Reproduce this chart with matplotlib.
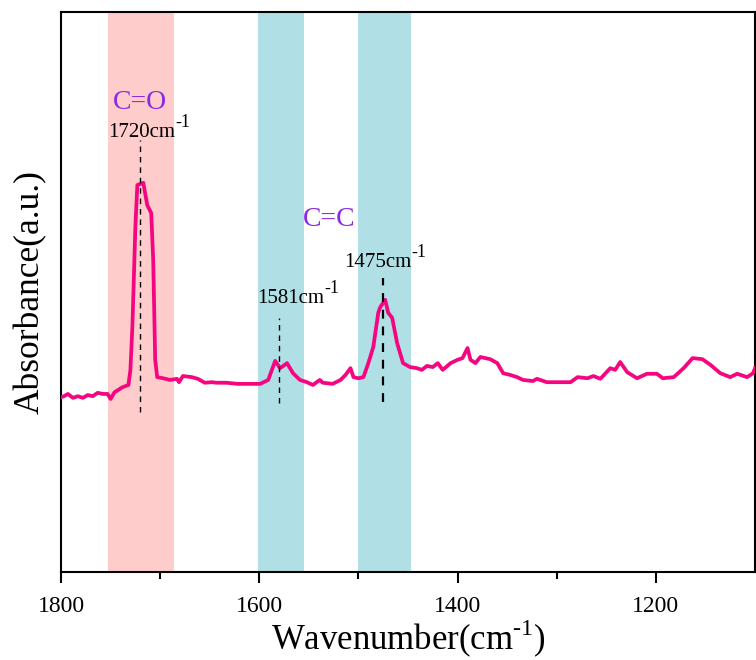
import matplotlib.pyplot as plt
import numpy as np

plt.rcParams["font.family"] = ["Liberation Serif", "DejaVu Serif"]
plt.rcParams["mathtext.fontset"] = "custom"
plt.rcParams["mathtext.rm"] = "Liberation Serif"

# FTIR trace (wavenumber in cm-1, absorbance in a.u.)
wavenumber = [
    1800, 1797, 1793, 1788, 1783, 1778, 1773, 1768, 1763, 1758,
    1753, 1750, 1746, 1738, 1732, 1730, 1728, 1725, 1723, 1717,
    1713, 1709, 1707, 1705, 1703, 1697, 1690, 1683, 1681, 1677,
    1668, 1662, 1655, 1648, 1643, 1633, 1622, 1599, 1591, 1584,
    1579, 1572, 1566, 1559, 1552, 1546, 1539, 1536, 1526, 1518,
    1513, 1508, 1505, 1500, 1495, 1490, 1485, 1480, 1478, 1473,
    1470, 1466, 1461, 1455, 1448, 1441, 1436, 1431, 1425, 1420,
    1415, 1407, 1400, 1395, 1390, 1387, 1382, 1377, 1367, 1360,
    1354, 1347, 1340, 1334, 1324, 1320, 1310, 1300, 1286, 1279,
    1269, 1263, 1256, 1246, 1241, 1236, 1229, 1219, 1209, 1199,
    1193, 1182, 1172, 1163, 1153, 1145, 1135, 1125, 1118, 1108,
    1102, 1100,
]
absorbance = [
    0.312, 0.314, 0.318, 0.311, 0.314, 0.311, 0.316, 0.314, 0.320, 0.318,
    0.318, 0.309, 0.321, 0.330, 0.334, 0.361, 0.438, 0.616, 0.691, 0.695,
    0.655, 0.641, 0.557, 0.379, 0.348, 0.346, 0.343, 0.345, 0.339, 0.350,
    0.348, 0.345, 0.338, 0.339, 0.338, 0.338, 0.336, 0.336, 0.343, 0.377,
    0.364, 0.373, 0.355, 0.343, 0.339, 0.334, 0.343, 0.338, 0.336, 0.343,
    0.352, 0.364, 0.348, 0.346, 0.348, 0.373, 0.402, 0.463, 0.473, 0.486,
    0.463, 0.454, 0.409, 0.373, 0.366, 0.364, 0.361, 0.368, 0.366, 0.373,
    0.361, 0.373, 0.379, 0.382, 0.400, 0.379, 0.373, 0.384, 0.380, 0.373,
    0.355, 0.352, 0.348, 0.343, 0.341, 0.345, 0.339, 0.339, 0.339, 0.348,
    0.346, 0.350, 0.345, 0.364, 0.361, 0.375, 0.357, 0.346, 0.354, 0.354,
    0.346, 0.348, 0.364, 0.382, 0.380, 0.370, 0.355, 0.348, 0.354, 0.348,
    0.355, 0.364,
]

tick_values = [1800, 1600, 1400, 1200]
tick_labels = ["1800", "1600", "1400", "1200"]
minor_ticks = [1700, 1500, 1300]

# highlighted bands (cm-1)
band_co = (1753, 1686)
bands_cc = [(1601, 1555), (1500, 1447)]

# peak markers: position, label, label anchor, dashed line extent, line width
peaks = [
    (1720, "1720", (1752, 0.777), (0.286, 0.771), 1.0),
    (1580, "1581", (1602, 0.480), (0.302, 0.454), 1.0),
    (1475, "1475", (1514, 0.545), (0.304, 0.525), 1.6),
]

fig = plt.figure(figsize=(7.56, 6.6), dpi=100)
ax = fig.add_axes([0.0807, 0.1333, 0.9180, 0.8485])

ax.axvspan(band_co[0], band_co[1], color="#FFCCCC", lw=0, zorder=0)
for lo, hi in bands_cc:
    ax.axvspan(lo, hi, color="#B0E0E6", lw=0, zorder=0)

ax.plot(wavenumber, absorbance, color="#F5057F", lw=2.7, zorder=3)

for pos, label, (tx, ty), (y0, y1), lw in peaks:
    ax.plot([pos, pos], [y0, y1], color="black", lw=lw,
            linestyle=(0, (4, 3.5)), zorder=4)
    base = ax.text(tx, ty, label + "cm", fontsize=15,
                   ha="left", va="baseline", zorder=5)
    # superscript "-1", drawn as a hyphen like the original
    ax.annotate("-1", xy=(1.0, 0.78), xycoords=base, fontsize=13,
                ha="left", va="baseline", zorder=5)

ax.text(1720, 0.839, "C=O", color="#8A2BE2", fontsize=20,
        ha="center", va="center")
ax.text(1530, 0.630, "C=C", color="#8A2BE2", fontsize=20,
        ha="center", va="center")

ax.set_xlim(1800, 1100)
ax.set_ylim(0, 1)
ax.set_xticks(tick_values)
ax.set_xticklabels(tick_labels, fontfamily="Liberation Serif", fontsize=17)
ax.set_xticks(minor_ticks, minor=True)
ax.set_yticks([])
ax.tick_params(axis="x", which="major", direction="out", length=8,
               width=1.5, pad=9)
ax.tick_params(axis="x", which="minor", direction="out", length=5,
               width=1.5)
for spine in ax.spines.values():
    spine.set_linewidth(1.5)

ax.set_xlabel(r"Wavenumber(cm$^{\text{-1}}$)", fontsize=25, labelpad=1)
ax.set_ylabel("Absorbance(a.u.)", fontsize=25.5, labelpad=10)

fig.savefig("out.png", dpi=100)
